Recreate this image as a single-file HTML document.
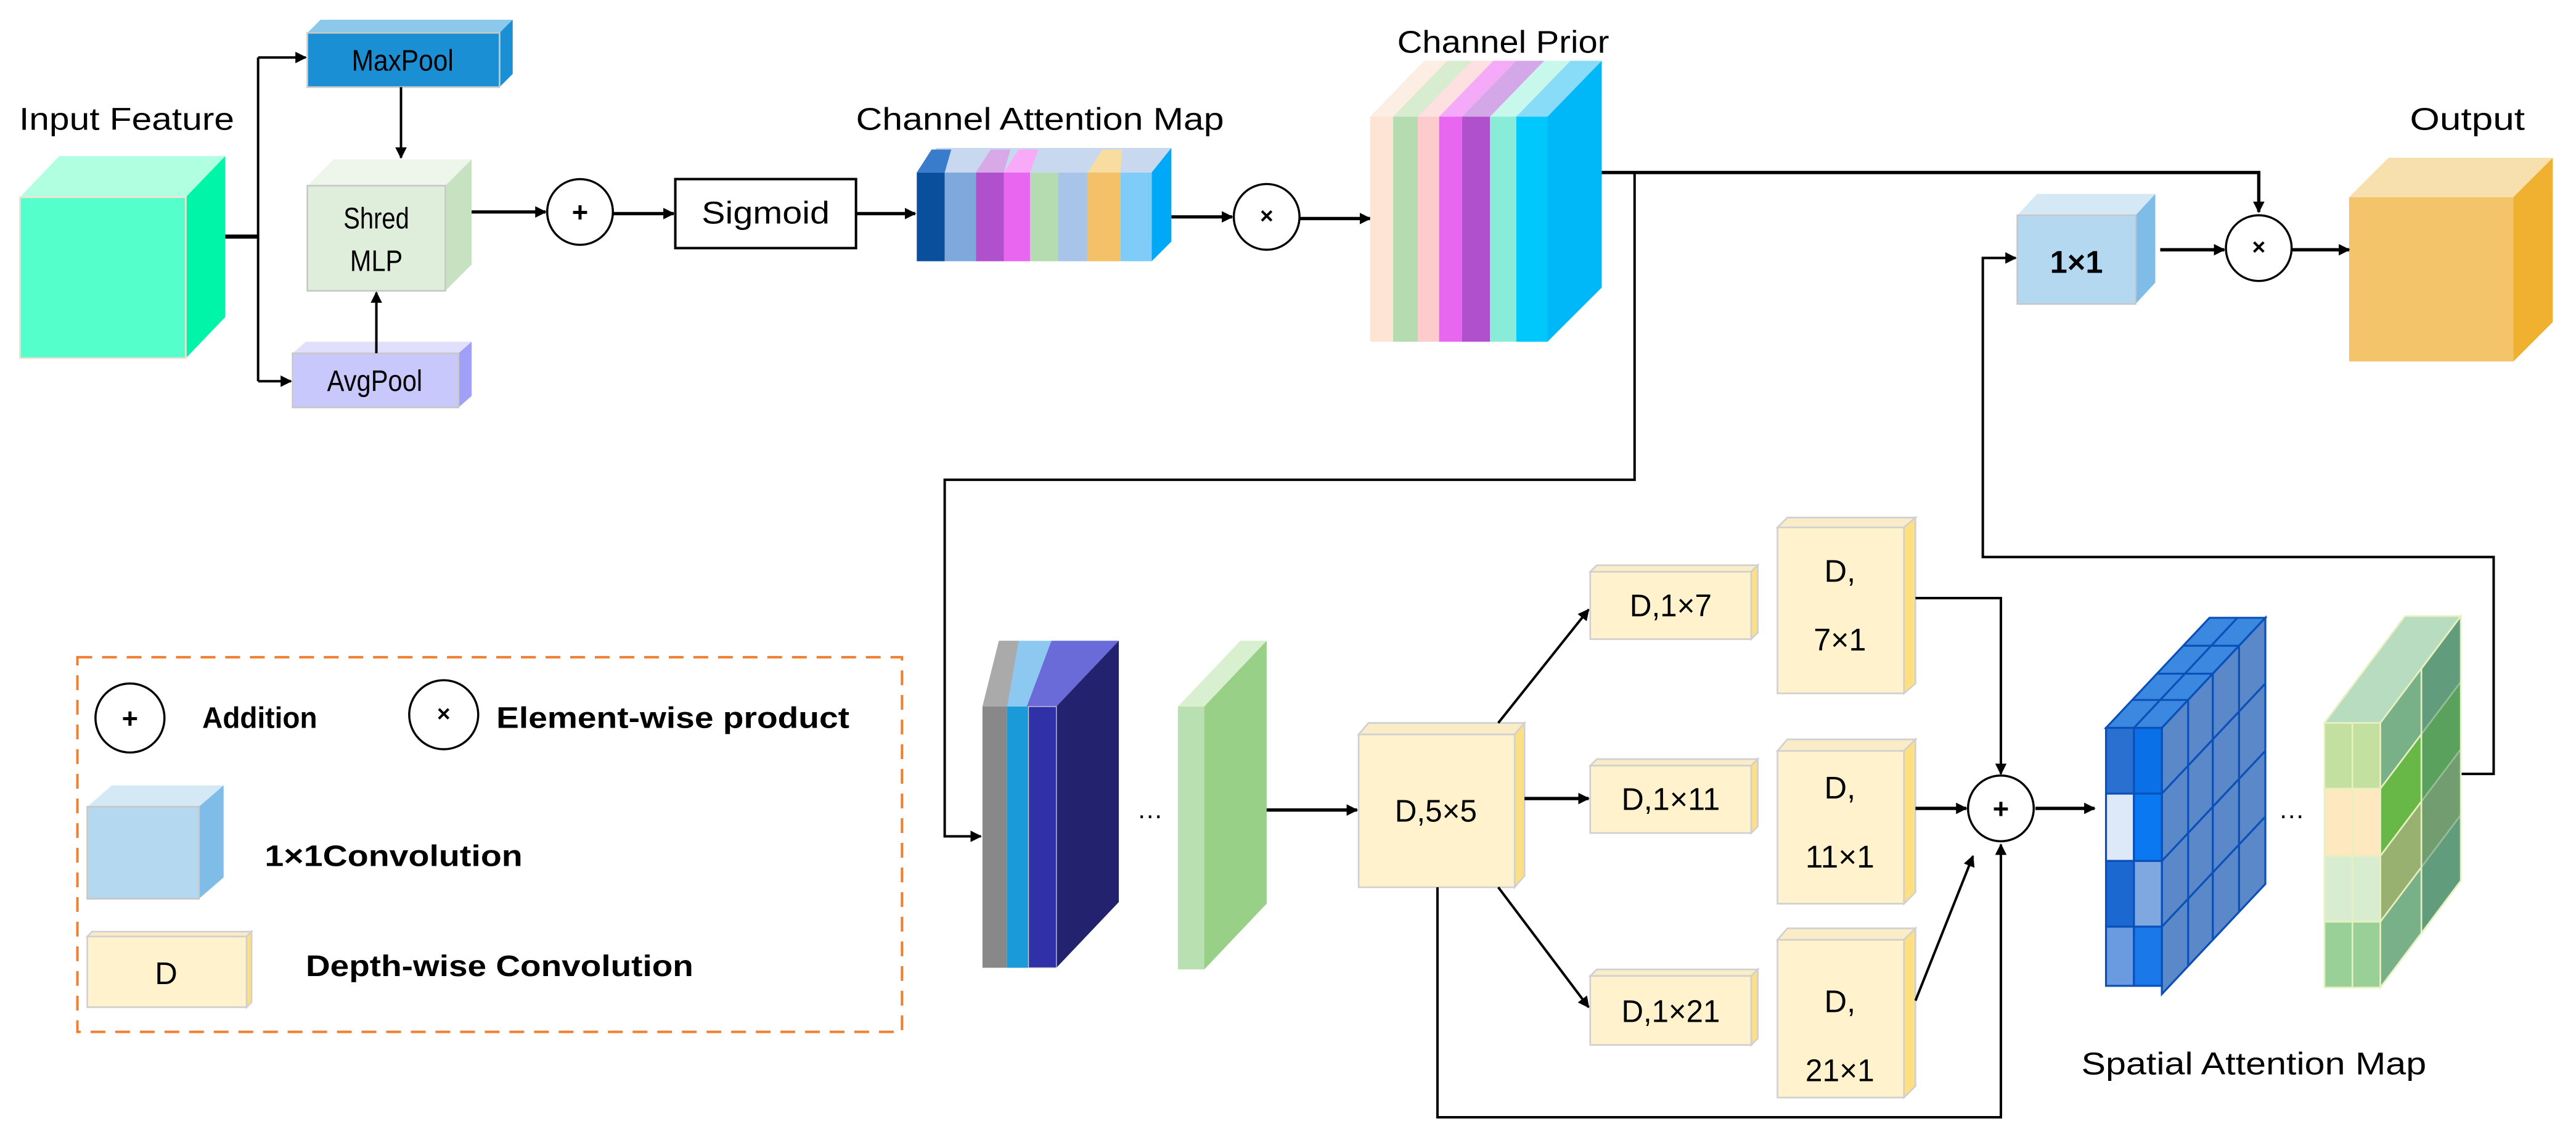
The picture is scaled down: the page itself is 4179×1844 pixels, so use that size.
<!DOCTYPE html>
<html><head><meta charset="utf-8"><style>
html,body{margin:0;padding:0;background:#fff;}
svg{display:block;}
text{font-family:"Liberation Sans",sans-serif;fill:#000;}
</style></head><body>
<svg width="4179" height="1844" viewBox="0 0 1568 692" xmlns="http://www.w3.org/2000/svg">
<defs>
<marker id="a" viewBox="0 0 10 10" refX="9" refY="5" markerWidth="7" markerHeight="7" markerUnits="userSpaceOnUse" orient="auto"><path d="M0,0 L10,5 L0,10 z" fill="#000"/></marker>
</defs>
<rect width="1568" height="692" fill="#fff"/>

<!-- Input cube -->
<polygon points="12,120 36,95 137,95 113,120" fill="#b0ffe0"/>
<polygon points="113,120 137,95 137,193 113,218" fill="#00f5a8"/>
<rect x="12" y="120" width="101" height="98" fill="#55ffcc" stroke="#f8e0d0" stroke-width="1"/>
<text x="77" y="79" font-size="19" text-anchor="middle" textLength="131" lengthAdjust="spacingAndGlyphs">Input Feature</text>

<!-- MaxPool -->
<polygon points="187,20 195,12 312,12 304,20" fill="#8cc8ea"/>
<polygon points="304,20 312,12 312,45 304,53" fill="#1a8fd4"/>
<rect x="187" y="20" width="117" height="33" fill="#1a8fd4" stroke="#c8c8c8" stroke-width="1"/>
<text x="245" y="43" font-size="18" text-anchor="middle" textLength="62" lengthAdjust="spacingAndGlyphs">MaxPool</text>

<!-- MLP -->
<polygon points="187,113 203,97 287,97 271,113" fill="#eef6ec"/>
<polygon points="271,113 287,97 287,161 271,177" fill="#c6e2c0"/>
<rect x="187" y="113" width="84" height="64" fill="#dfeedb" stroke="#c8c8c8" stroke-width="1"/>
<text x="229" y="139" font-size="18" text-anchor="middle" textLength="40" lengthAdjust="spacingAndGlyphs">Shred</text>
<text x="229" y="165" font-size="18" text-anchor="middle" textLength="32" lengthAdjust="spacingAndGlyphs">MLP</text>

<!-- AvgPool -->
<polygon points="178,215 186,208 287,208 279,215" fill="#e0e0fc"/>
<polygon points="279,215 287,208 287,241 279,248" fill="#a0a0f8"/>
<rect x="178" y="215" width="101" height="33" fill="#c8c8fc" stroke="#c8c8c8" stroke-width="1"/>
<text x="228" y="238" font-size="18" text-anchor="middle" textLength="58" lengthAdjust="spacingAndGlyphs">AvgPool</text>

<!-- connectors top-left -->
<g stroke="#000" stroke-width="1.5" fill="none">
<line x1="137" y1="144" x2="157" y2="144" stroke-width="2.5"/>
<line x1="157" y1="35" x2="157" y2="232"/>
<line x1="157" y1="35" x2="186" y2="35" marker-end="url(#a)"/>
<line x1="157" y1="232" x2="177" y2="232" marker-end="url(#a)"/>
<line x1="244" y1="53" x2="244" y2="96" marker-end="url(#a)"/>
<line x1="229" y1="215" x2="229" y2="178" marker-end="url(#a)"/>
<line x1="287" y1="129" x2="332" y2="129" stroke-width="2" marker-end="url(#a)"/>
<line x1="373" y1="130" x2="410" y2="130" stroke-width="2" marker-end="url(#a)"/>
<line x1="521" y1="130" x2="557" y2="130" stroke-width="2" marker-end="url(#a)"/>
<line x1="713" y1="132" x2="750" y2="132" stroke-width="2" marker-end="url(#a)"/>
<line x1="791" y1="133" x2="834" y2="133" stroke-width="2" marker-end="url(#a)"/>
</g>
<circle cx="353" cy="129" r="20" fill="#fff" stroke="#000" stroke-width="1.3"/>
<text x="353" y="135" font-size="17" font-weight="bold" text-anchor="middle">+</text>
<rect x="411" y="109" width="110" height="42" fill="#fff" stroke="#000" stroke-width="1.5"/>
<text x="466" y="136" font-size="19" text-anchor="middle" textLength="78" lengthAdjust="spacingAndGlyphs">Sigmoid</text>

<!-- Channel attention map -->
<g>
<polygon points="558,105 570,90 713,90 701,105" fill="#c8d8ee"/>
<polygon points="558,105 567,91 579,91 575,105" fill="#3a7ccc"/>
<polygon points="594,105 603,91 615,91 611,105" fill="#d8a8e8"/>
<polygon points="611,105 620,91 632,91 627,105" fill="#f8aaf8"/>
<polygon points="662,105 671,91 683,91 682,105" fill="#f8dca0"/>
<polygon points="701,105 713,90 713,147 701,159" fill="#00a8f8"/>
<rect x="558" y="105" width="17" height="54" fill="#0a4f9c"/>
<rect x="575" y="105" width="19" height="54" fill="#7fa9dc"/>
<rect x="594" y="105" width="17" height="54" fill="#b050cc"/>
<rect x="611" y="105" width="16" height="54" fill="#e866f0"/>
<rect x="627" y="105" width="17" height="54" fill="#b4dcb0"/>
<rect x="644" y="105" width="18" height="54" fill="#a8c4e8"/>
<rect x="662" y="105" width="20" height="54" fill="#f4c068"/>
<rect x="682" y="105" width="19" height="54" fill="#80ccf8"/>
</g>
<text x="633" y="79" font-size="19" text-anchor="middle" textLength="224" lengthAdjust="spacingAndGlyphs">Channel Attention Map</text>
<circle cx="771" cy="132" r="20" fill="#fff" stroke="#000" stroke-width="1.3"/>
<text x="771" y="136" font-size="14" font-weight="bold" text-anchor="middle">×</text>

<!-- Channel prior -->
<polygon points="834,71 867,37 975,37 942,71" fill="#e8d8f0"/>
<polygon points="834,71 867,37 881,37 848,71" fill="#fdeee4"/>
<polygon points="848,71 881,37 896,37 863,71" fill="#d8ecd0"/>
<polygon points="863,71 896,37 909,37 876,71" fill="#fde0e0"/>
<polygon points="876,71 909,37 923,37 890,71" fill="#f4aaf8"/>
<polygon points="890,71 923,37 940,37 907,71" fill="#d4a8e8"/>
<polygon points="907,71 940,37 956,37 923,71" fill="#c8f8ec"/>
<polygon points="923,71 956,37 975,37 942,71" fill="#88dcf8"/>
<polygon points="942,71 975,37 975,175 942,208" fill="#00b8f8"/>
<rect x="834" y="71" width="14" height="137" fill="#fde4d4"/>
<rect x="848" y="71" width="15" height="137" fill="#b4dcb0"/>
<rect x="863" y="71" width="13" height="137" fill="#fccccc"/>
<rect x="876" y="71" width="14" height="137" fill="#e866f0"/>
<rect x="890" y="71" width="17" height="137" fill="#b050cc"/>
<rect x="907" y="71" width="16" height="137" fill="#88ecd8"/>
<rect x="923" y="71" width="19" height="137" fill="#00c8fc"/>
<text x="915" y="32" font-size="19" text-anchor="middle" textLength="129" lengthAdjust="spacingAndGlyphs">Channel Prior</text>

<!-- Output -->
<polygon points="1430,120 1454,96 1554,96 1530,120" fill="#f8dfae"/>
<polygon points="1530,120 1554,96 1554,196 1530,220" fill="#f0b030"/>
<rect x="1430" y="120" width="100" height="100" fill="#f4c46a"/>
<text x="1502" y="79" font-size="19" text-anchor="middle" textLength="70" lengthAdjust="spacingAndGlyphs">Output</text>

<!-- 1x1 -->
<polygon points="1228,131 1240,118 1312,118 1300,131" fill="#d4e8f6"/>
<polygon points="1300,131 1312,118 1312,172 1300,185" fill="#80bce8"/>
<rect x="1228" y="131" width="72" height="54" fill="#b4d8f0" stroke="#c8c8c8" stroke-width="1"/>
<text x="1264" y="166" font-size="19" font-weight="bold" text-anchor="middle">1×1</text>

<g stroke="#000" stroke-width="1.5" fill="none">
<polyline points="975,105 1375,105 1375,129" stroke-width="2" marker-end="url(#a)"/>
<line x1="1315" y1="152" x2="1354" y2="152" stroke-width="2" marker-end="url(#a)"/>
<line x1="1395" y1="152" x2="1430" y2="152" stroke-width="2" marker-end="url(#a)"/>
<polyline points="995,105 995,292 575,292 575,509 597,509" marker-end="url(#a)"/>
<polyline points="1498,471 1518,471 1518,339 1207,339 1207,157 1227,157" marker-end="url(#a)"/>
</g>
<circle cx="1375" cy="151" r="20" fill="#fff" stroke="#000" stroke-width="1.3"/>
<text x="1375" y="155" font-size="14" font-weight="bold" text-anchor="middle">×</text>

<!-- bottom left stack -->
<polygon points="598,430 608,390 681,390 643,430" fill="#8cc8f0"/>
<polygon points="598,430 608,390 620,390 613,430" fill="#aaaaaa"/>
<polygon points="625,430 640,390 681,390 643,430" fill="#6a6ad8"/>
<polygon points="643,430 681,390 681,549 643,589" fill="#22226e"/>
<rect x="598" y="430" width="15" height="159" fill="#888888"/>
<rect x="613" y="430" width="13" height="159" fill="#1a9ad8"/>
<rect x="626" y="430" width="17" height="159" fill="#3030a8" stroke="#ccc" stroke-width="0.5"/>
<text x="700" y="498" font-size="16" text-anchor="middle">…</text>

<!-- green slab -->
<polygon points="717,430 755,390 771,390 733,430" fill="#d8f0d0"/>
<polygon points="733,430 771,390 771,550 733,590" fill="#98d088"/>
<rect x="717" y="430" width="16" height="160" fill="#b8e0b0"/>

<!-- D boxes -->
<g stroke="#d0d0d0" stroke-width="1">
<polygon points="827,447 833,440 928,440 922,447" fill="#fbecc8"/>
<polygon points="922,447 928,440 928,533 922,540" fill="#ffdf80"/>
<rect x="827" y="447" width="95" height="93" fill="#fff2cc"/>

<polygon points="968,348 972,344 1070,344 1066,348" fill="#fbecc8"/>
<polygon points="1066,348 1070,344 1070,385 1066,389" fill="#ffdf80"/>
<rect x="968" y="348" width="98" height="41" fill="#fff2cc"/>

<polygon points="968,466 972,462 1070,462 1066,466" fill="#fbecc8"/>
<polygon points="1066,466 1070,462 1070,503 1066,507" fill="#ffdf80"/>
<rect x="968" y="466" width="98" height="41" fill="#fff2cc"/>

<polygon points="968,594 972,590 1070,590 1066,594" fill="#fbecc8"/>
<polygon points="1066,594 1070,590 1070,632 1066,636" fill="#ffdf80"/>
<rect x="968" y="594" width="98" height="42" fill="#fff2cc"/>

<polygon points="1082,321 1088,315 1166,315 1159,321" fill="#fbecc8"/>
<polygon points="1159,321 1166,315 1166,416 1159,422" fill="#ffdf80"/>
<rect x="1082" y="321" width="77" height="101" fill="#fff2cc"/>

<polygon points="1082,457 1088,450 1166,450 1159,457" fill="#fbecc8"/>
<polygon points="1159,457 1166,450 1166,543 1159,550" fill="#ffdf80"/>
<rect x="1082" y="457" width="77" height="93" fill="#fff2cc"/>

<polygon points="1082,572 1088,565 1166,565 1159,572" fill="#fbecc8"/>
<polygon points="1159,572 1166,565 1166,661 1159,668" fill="#ffdf80"/>
<rect x="1082" y="572" width="77" height="96" fill="#fff2cc"/>
</g>
<g font-size="19" text-anchor="middle">
<text x="874" y="500" textLength="50" lengthAdjust="spacingAndGlyphs">D,5×5</text>
<text x="1017" y="375" textLength="50" lengthAdjust="spacingAndGlyphs">D,1×7</text>
<text x="1017" y="493" textLength="60" lengthAdjust="spacingAndGlyphs">D,1×11</text>
<text x="1017" y="622" textLength="60" lengthAdjust="spacingAndGlyphs">D,1×21</text>
<text x="1120" y="354">D,</text><text x="1120" y="396" textLength="32" lengthAdjust="spacingAndGlyphs">7×1</text>
<text x="1120" y="486">D,</text><text x="1120" y="528" textLength="42" lengthAdjust="spacingAndGlyphs">11×1</text>
<text x="1120" y="616">D,</text><text x="1120" y="658" textLength="42" lengthAdjust="spacingAndGlyphs">21×1</text>
</g>

<g stroke="#000" stroke-width="1.5" fill="none">
<line x1="771" y1="493" x2="826" y2="493" stroke-width="2" marker-end="url(#a)"/>
<line x1="912" y1="440" x2="967" y2="371" marker-end="url(#a)"/>
<line x1="928" y1="486" x2="967" y2="486" stroke-width="2" marker-end="url(#a)"/>
<line x1="912" y1="540" x2="967" y2="613" marker-end="url(#a)"/>
<polyline points="1166,364 1218,364 1218,471" marker-end="url(#a)"/>
<line x1="1166" y1="492" x2="1197" y2="492" stroke-width="2" marker-end="url(#a)"/>
<line x1="1166" y1="609" x2="1201" y2="521" marker-end="url(#a)"/>
<polyline points="875,540 875,680 1218,680 1218,514" marker-end="url(#a)"/>
<line x1="1239" y1="492" x2="1275" y2="492" stroke-width="2" marker-end="url(#a)"/>
</g>
<circle cx="1218" cy="492" r="20" fill="#fff" stroke="#000" stroke-width="1.3"/>
<text x="1218" y="498" font-size="17" font-weight="bold" text-anchor="middle">+</text>

<!-- blue grid cube -->
<g stroke="#0a50b8" stroke-width="1.2">
<polygon points="1282,443 1345,376 1379,376 1316,443" fill="#3a88e0"/>
<line x1="1298" y1="426" x2="1332" y2="426"/><line x1="1313" y1="410" x2="1347" y2="410"/><line x1="1329" y1="393" x2="1363" y2="393"/>
<line x1="1299" y1="443" x2="1362" y2="376"/>
<polygon points="1316,443 1379,376 1379,538 1316,605" fill="#5a88c8"/>
<line x1="1316" y1="483" x2="1379" y2="416"/><line x1="1316" y1="524" x2="1379" y2="457"/><line x1="1316" y1="564" x2="1379" y2="497"/>
<line x1="1332" y1="426" x2="1332" y2="588"/><line x1="1347" y1="410" x2="1347" y2="572"/><line x1="1363" y1="393" x2="1363" y2="555"/>
<rect x="1282" y="443" width="17" height="40" fill="#2a70d0"/>
<rect x="1299" y="443" width="17" height="40" fill="#0a70e8"/>
<rect x="1282" y="483" width="17" height="41" fill="#dde8f8"/>
<rect x="1299" y="483" width="17" height="41" fill="#0a78f0"/>
<rect x="1282" y="524" width="17" height="40" fill="#1a68d0"/>
<rect x="1299" y="524" width="17" height="40" fill="#80a8e0"/>
<rect x="1282" y="564" width="17" height="36" fill="#6a9ae0"/>
<rect x="1299" y="564" width="17" height="36" fill="#1a78e8"/>
</g>
<text x="1395" y="498" font-size="16" text-anchor="middle">…</text>

<!-- green grid -->
<g stroke="#e8f0c0" stroke-width="1">
<polygon points="1415,440 1464,375 1498,375 1449,440" fill="#b8dcc0"/>
<polygon points="1449,440 1498,375 1498,536 1449,601" fill="#78b088"/>
<polygon points="1449,480 1498,415 1498,456 1449,521" fill="#68b848"/>
<polygon points="1449,521 1498,456 1498,496 1449,561" fill="#98b070"/>
<polygon points="1474,407 1498,375 1498,536 1474,568" fill="#4a8a70" fill-opacity="0.5"/>
<rect x="1415" y="440" width="34" height="40" fill="#c4e0a0"/>
<rect x="1415" y="480" width="34" height="41" fill="#fde8c0"/>
<rect x="1415" y="521" width="34" height="40" fill="#d8ecd0"/>
<rect x="1415" y="561" width="34" height="40" fill="#98d098"/>
<line x1="1432" y1="440" x2="1432" y2="601"/>
</g>
<text x="1372" y="654" font-size="19" text-anchor="middle" textLength="210" lengthAdjust="spacingAndGlyphs">Spatial Attention Map</text>

<!-- Legend -->
<rect x="47" y="400" width="502" height="228" fill="none" stroke="#f08030" stroke-width="1.5" stroke-dasharray="9,6"/>
<circle cx="79" cy="437" r="21" fill="#fff" stroke="#000" stroke-width="1.3"/>
<text x="79" y="443" font-size="17" font-weight="bold" text-anchor="middle">+</text>
<text x="123" y="443" font-size="18" font-weight="bold" textLength="70" lengthAdjust="spacingAndGlyphs">Addition</text>
<circle cx="270" cy="435" r="21" fill="#fff" stroke="#000" stroke-width="1.3"/>
<text x="270" y="439" font-size="14" font-weight="bold" text-anchor="middle">×</text>
<text x="302" y="443" font-size="18" font-weight="bold" textLength="215" lengthAdjust="spacingAndGlyphs">Element-wise product</text>
<polygon points="53,491 68,478 136,478 121,491" fill="#d4e8f6"/>
<polygon points="121,491 136,478 136,534 121,547" fill="#80bce8"/>
<rect x="53" y="491" width="68" height="56" fill="#b4d8f0" stroke="#c8c8c8" stroke-width="1"/>
<text x="161" y="527" font-size="18" font-weight="bold" textLength="157" lengthAdjust="spacingAndGlyphs">1×1Convolution</text>
<polygon points="53,570 56,567 153,567 150,570" fill="#fbecc8" stroke="#d0d0d0" stroke-width="1"/>
<polygon points="150,570 153,567 153,610 150,613" fill="#ffdf80" stroke="#d0d0d0" stroke-width="1"/>
<rect x="53" y="570" width="97" height="43" fill="#fff2cc" stroke="#d0d0d0" stroke-width="1"/>
<text x="101" y="599" font-size="19" text-anchor="middle">D</text>
<text x="186" y="594" font-size="18" font-weight="bold" textLength="236" lengthAdjust="spacingAndGlyphs">Depth-wise Convolution</text>
</svg>
</body></html>
